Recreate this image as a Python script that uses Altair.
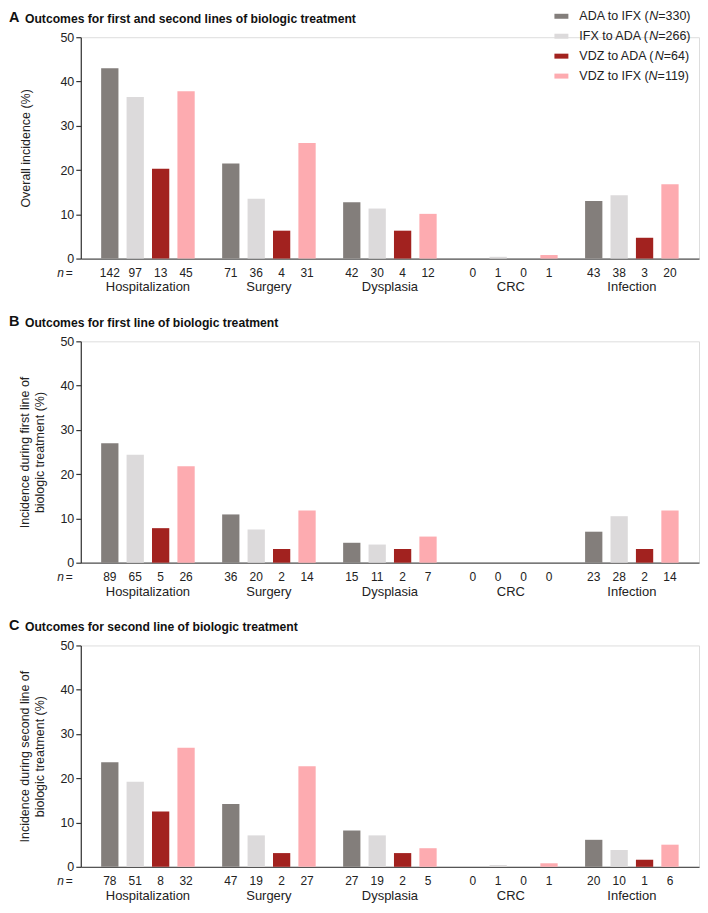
import altair as alt
import pandas as pd

# ---------------- data ----------------
outcomes = ["Hospitalization", "Surgery", "Dysplasia", "CRC", "Infection"]
groups = ["ADA to IFX", "IFX to ADA", "VDZ to ADA", "VDZ to IFX"]
group_N = ["330", "266", "64", "119"]
colors = ["#837e7b", "#dcdadb", "#a2221f", "#fdabb0"]

# Panel A: first and second lines (% per outcome, order = outcomes)
a_ada_ifx = [43.0, 21.5, 12.7, 0.0, 13.0]
a_ifx_ada = [36.5, 13.5, 11.3, 0.4, 14.3]
a_vdz_ada = [20.3, 6.3, 6.3, 0.0, 4.7]
a_vdz_ifx = [37.8, 26.1, 10.1, 0.8, 16.8]
a_n_ada_ifx = [142, 71, 42, 0, 43]
a_n_ifx_ada = [97, 36, 30, 1, 38]
a_n_vdz_ada = [13, 4, 4, 0, 3]
a_n_vdz_ifx = [45, 31, 12, 1, 20]

# Panel B: first line
b_ada_ifx = [27.0, 10.9, 4.5, 0.0, 7.0]
b_ifx_ada = [24.4, 7.5, 4.1, 0.0, 10.5]
b_vdz_ada = [7.8, 3.1, 3.1, 0.0, 3.1]
b_vdz_ifx = [21.8, 11.8, 5.9, 0.0, 11.8]
b_n_ada_ifx = [89, 36, 15, 0, 23]
b_n_ifx_ada = [65, 20, 11, 0, 28]
b_n_vdz_ada = [5, 2, 2, 0, 2]
b_n_vdz_ifx = [26, 14, 7, 0, 14]

# Panel C: second line
c_ada_ifx = [23.6, 14.2, 8.2, 0.0, 6.1]
c_ifx_ada = [19.2, 7.1, 7.1, 0.4, 3.8]
c_vdz_ada = [12.5, 3.1, 3.1, 0.0, 1.6]
c_vdz_ifx = [26.9, 22.7, 4.2, 0.8, 5.0]
c_n_ada_ifx = [78, 47, 27, 0, 20]
c_n_ifx_ada = [51, 19, 19, 1, 10]
c_n_vdz_ada = [8, 2, 2, 0, 1]
c_n_vdz_ifx = [32, 27, 5, 1, 6]

y_ticks = [0, 10, 20, 30, 40, 50]

# ---------------- style ----------------
FONT = "Liberation Sans"
TXT = "#222222"
W, H = 620, 222

# Arial / Liberation Sans advance widths (per 1000 em) for legend layout
CW = {"A": 667, "D": 722, "I": 278, "F": 611, "X": 667, "V": 667, "Z": 611,
      "N": 722, " ": 278, "t": 278, "o": 556, "(": 333, ")": 333, "=": 584}


def text_w(s, size):
    return sum(CW.get(ch, 556) for ch in s) * size / 1000.0


X = alt.X("outcome:N", sort=outcomes,
          scale=alt.Scale(domain=outcomes, paddingInner=0, paddingOuter=0.055),
          axis=alt.Axis(title=None, labels=False, ticks=False, domain=True,
                        domainColor="#555555", domainWidth=1.2, grid=False))
XO = alt.XOffset("group:N", sort=groups,
                 scale=alt.Scale(domain=groups, paddingInner=0.32, paddingOuter=0.54))


def one():
    return alt.Chart(pd.DataFrame({"k": [0]}))


def panel(vals, ns, letter, title, ytitle, title_x, legend=False):
    rows = []
    for gi, g in enumerate(groups):
        for oi, o in enumerate(outcomes):
            rows.append({"outcome": o, "group": g, "value": vals[gi][oi],
                         "n": str(ns[gi][oi])})
    df = pd.DataFrame(rows)
    base = alt.Chart(df)

    bars = base.mark_bar().encode(
        x=X, xOffset=XO,
        y=alt.Y("value:Q", scale=alt.Scale(domain=[0, 50], nice=False),
                axis=alt.Axis(values=y_ticks, title=ytitle, grid=False,
                              domainColor="#333333", domainWidth=1.2,
                              tickColor="#333333", tickSize=5, tickWidth=1.2,
                              labelFont=FONT, labelFontSize=12.5, labelColor=TXT,
                              labelPadding=2,
                              titleFont=FONT, titleFontSize=12.5, titleColor=TXT,
                              titleFontWeight="normal", titleAngle=-90,
                              titleX=title_x, titleY=H / 2, titleAlign="center",
                              titleBaseline="bottom", titleLineHeight=15)),
        color=alt.Color("group:N", scale=alt.Scale(domain=groups, range=colors),
                        legend=None),
    )

    ntext = base.mark_text(font=FONT, fontSize=12, color=TXT, baseline="middle").encode(
        x=X, xOffset=XO, y=alt.value(H + 14), text="n:N")

    cats = alt.Chart(pd.DataFrame({"outcome": outcomes})).mark_text(
        font=FONT, fontSize=13, color=TXT, baseline="middle").encode(
        x=X, y=alt.value(H + 29), text="outcome:N")

    n_lab = one().mark_text(font=FONT, fontSize=12, fontStyle="italic", color=TXT,
                            align="right", baseline="middle").encode(
        x=alt.value(-17), y=alt.value(H + 14), text=alt.value("n"))
    eq_lab = one().mark_text(font=FONT, fontSize=12, color=TXT,
                             align="right", baseline="middle").encode(
        x=alt.value(-8), y=alt.value(H + 14), text=alt.value("="))

    t_letter = one().mark_text(font=FONT, fontSize=14.5, fontWeight="bold", color="#111111",
                               align="left", baseline="middle").encode(
        x=alt.value(-72), y=alt.value(-19), text=alt.value(letter))
    t_text = one().mark_text(font=FONT, fontSize=12.2, fontWeight="bold", color="#111111",
                             align="left", baseline="middle").encode(
        x=alt.value(-56), y=alt.value(-18.5), text=alt.value(title))

    layers = [bars, ntext, cats, n_lab, eq_lab, t_letter, t_text]

    if legend:
        lx_sym, lx_txt, fs = 475, 500, 12.5
        for i, g in enumerate(groups):
            ly = -21 + 20 * i
            layers.append(one().mark_rect(color=colors[i]).encode(
                x=alt.value(lx_sym), x2=alt.value(lx_sym + 14),
                y=alt.value(ly - 2.5), y2=alt.value(ly + 2.5)))
            p1 = g + " ("
            p2 = "N"
            p3 = "=" + group_N[i] + ")"
            x1 = lx_txt
            x2 = x1 + text_w(p1, fs)
            x3 = x2 + text_w(p2, fs)
            for txt, xx, style in [(p1, x1, "normal"), (p2, x2, "italic"), (p3, x3, "normal")]:
                layers.append(one().mark_text(font=FONT, fontSize=fs, fontStyle=style,
                                              color=TXT, align="left", baseline="middle").encode(
                    x=alt.value(xx), y=alt.value(ly), text=alt.value(txt)))

    return alt.layer(*layers).properties(width=W, height=H)


pA = panel([a_ada_ifx, a_ifx_ada, a_vdz_ada, a_vdz_ifx],
           [a_n_ada_ifx, a_n_ifx_ada, a_n_vdz_ada, a_n_vdz_ifx],
           "A", "Outcomes for first and second lines of biologic treatment",
           "Overall incidence (%)", -48, legend=True)
pB = panel([b_ada_ifx, b_ifx_ada, b_vdz_ada, b_vdz_ifx],
           [b_n_ada_ifx, b_n_ifx_ada, b_n_vdz_ada, b_n_vdz_ifx],
           "B", "Outcomes for first line of biologic treatment",
           ["Incidence during first line of", "biologic treatment (%)"], -49)
pC = panel([c_ada_ifx, c_ifx_ada, c_vdz_ada, c_vdz_ifx],
           [c_n_ada_ifx, c_n_ifx_ada, c_n_vdz_ada, c_n_vdz_ifx],
           "C", "Outcomes for second line of biologic treatment",
           ["Incidence during second line of", "biologic treatment (%)"], -49)

chart = alt.vconcat(pA, pB, pC, spacing=83, bounds="flush").properties(
    padding={"left": 0, "top": 0, "right": 0, "bottom": 0}
).configure_view(stroke=None).configure(font=FONT)

chart.save("out.html", embed_options={"renderer": "svg", "actions": False})
